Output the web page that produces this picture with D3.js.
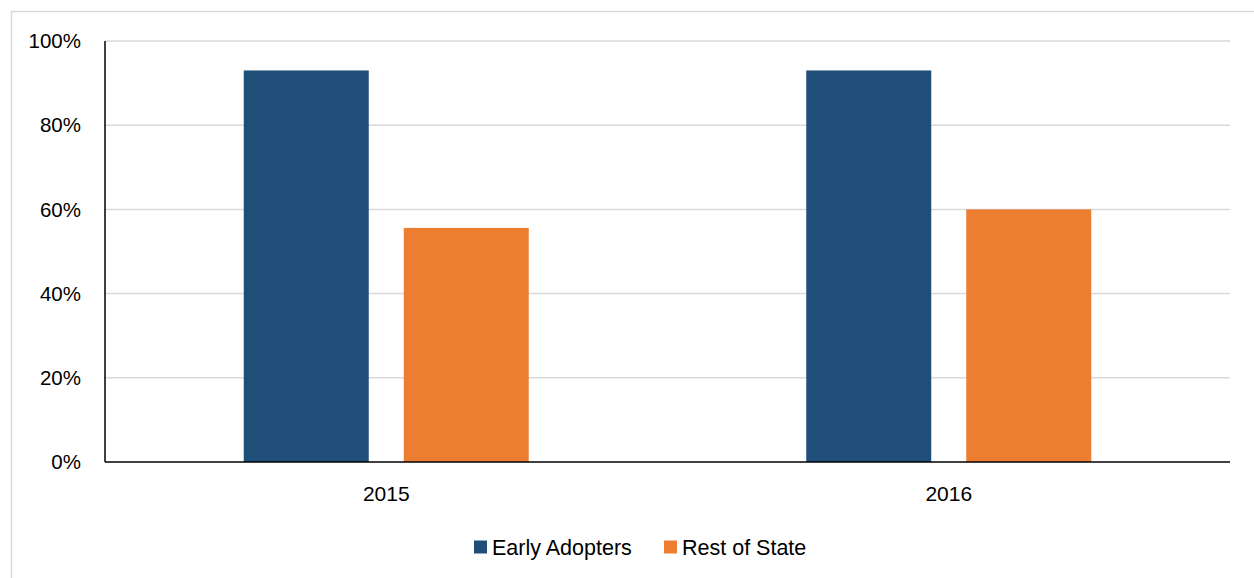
<!DOCTYPE html>
<html><head><meta charset="utf-8">
<script src="https://cdn.jsdelivr.net/npm/d3@7"></script>
<style>body{margin:0;background:#fff;} svg{display:block;}</style>
</head><body>
<svg id="chart" width="1254" height="578"></svg>
<script>
const categories = ["2015", "2016"];
const seriesNames = ["Early Adopters", "Rest of State"];
const earlyAdopters = [0.93, 0.93];
const restOfState = [0.556, 0.60];
const yTicks = [0, 0.2, 0.4, 0.6, 0.8, 1.0];
const colors = ["#1f4e79", "#ed7d31"];

const svg = d3.select("#chart");
const font = "'Liberation Sans', Arial, sans-serif";
const W = 1254, H = 578;
const m = {left: 105, right: 1230, top: 41, bottom: 462};

// outer border
svg.append("rect").attr("x", 11.5).attr("y", 11.5).attr("width", W + 10).attr("height", H + 10)
  .attr("fill", "none").attr("stroke", "#d9d9d9").attr("stroke-width", 1.5);

const x = d3.scaleBand().domain(categories).range([m.left, m.right]).paddingInner(0).paddingOuter(0);
const y = d3.scaleLinear().domain([0, 1]).range([m.bottom, m.top]);

// gridlines
svg.append("g").selectAll("line").data(yTicks.filter(d => d > 0)).join("line")
  .attr("x1", m.left).attr("x2", m.right)
  .attr("y1", d => y(d)).attr("y2", d => y(d))
  .attr("stroke", "#d9d9d9").attr("stroke-width", 1.5);

// y tick labels
svg.append("g").selectAll("text").data(yTicks).join("text")
  .attr("x", 81).attr("y", d => y(d)).attr("dy", "0.35em")
  .attr("text-anchor", "end").attr("font-family", font).attr("font-size", 20.5).attr("fill", "#000")
  .text(d => d3.format(".0%")(d));

// bars
const series = [earlyAdopters, restOfState];
const barW = 125, gap = 35;
categories.forEach((c, i) => {
  const center = x(c) + x.bandwidth() / 2;
  series.forEach((vals, s) => {
    const bx = center - (barW * 2 + gap) / 2 + s * (barW + gap);
    svg.append("rect")
      .attr("x", bx).attr("y", y(vals[i]))
      .attr("width", barW).attr("height", y(0) - y(vals[i]))
      .attr("fill", colors[s]);
  });
});

// axes lines
svg.append("line").attr("x1", m.left).attr("x2", m.left).attr("y1", m.top).attr("y2", m.bottom)
  .attr("stroke", "#000").attr("stroke-width", 1.5);
svg.append("line").attr("x1", m.left).attr("x2", m.right).attr("y1", m.bottom).attr("y2", m.bottom)
  .attr("stroke", "#000").attr("stroke-width", 1.5);

// x labels
svg.append("g").selectAll("text").data(categories).join("text")
  .attr("x", d => x(d) + x.bandwidth() / 2).attr("y", 494).attr("dy", "0.35em")
  .attr("text-anchor", "middle").attr("font-family", font).attr("font-size", 21).attr("fill", "#000")
  .text(d => d);

// legend
const legendItems = [{name: seriesNames[0], x: 474}, {name: seriesNames[1], x: 664}];
legendItems.forEach((it, i) => {
  svg.append("rect").attr("x", it.x).attr("y", 540.5).attr("width", 13).attr("height", 13).attr("fill", colors[i]);
  svg.append("text").attr("x", it.x + 18).attr("y", 547).attr("dy", "0.35em")
    .attr("font-family", font).attr("font-size", 21.5).attr("fill", "#000").text(it.name);
});
</script>
</body></html>
